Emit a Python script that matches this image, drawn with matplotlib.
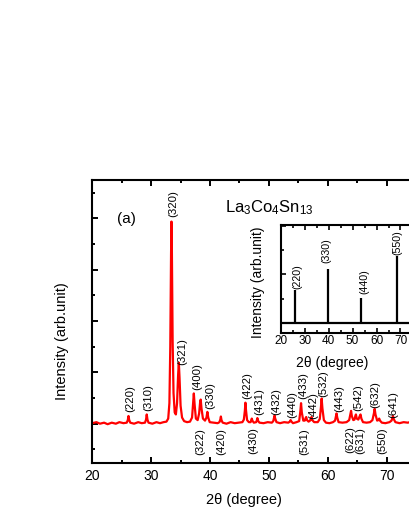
import numpy as np
import matplotlib
matplotlib.use('Agg')
import matplotlib.pyplot as plt
from matplotlib.ticker import MultipleLocator, NullFormatter, FuncFormatter

plt.rcParams['font.family'] = ['Liberation Sans', 'DejaVu Sans']
plt.rcParams['mathtext.fontset'] = 'custom'
plt.rcParams['mathtext.rm'] = 'Liberation Sans'
plt.rcParams['mathtext.it'] = 'Liberation Sans:italic'

# measured XRD pattern (2theta in degree, intensity in arb. units)
two_theta = [20.0, 20.7, 21.3, 22.0, 22.6, 23.3, 24.0, 24.6, 25.3, 25.85,
             26.03, 26.15, 26.27, 26.45,
             27.1, 27.8, 28.4, 28.95,
             29.13, 29.25, 29.37, 29.55,
             30.2, 30.9, 31.5, 32.1, 32.6,
             32.9, 33.1, 33.25, 33.38, 33.45, 33.52, 33.65, 33.8, 34.0,
             34.2, 34.4, 34.58, 34.7, 34.82, 35.0, 35.25, 35.6,
             36.1, 36.6, 36.95, 37.12, 37.25, 37.38, 37.6,
             37.9, 38.15, 38.32, 38.42, 38.55, 38.8,
             39.15, 39.4, 39.55, 39.7, 39.95,
             40.6, 41.3, 41.6, 41.75, 41.85, 41.95, 42.15,
             42.8, 43.5, 44.2, 44.9, 45.5, 45.75,
             45.92, 46.02, 46.12, 46.3, 46.6,
             46.9, 47.02, 47.1, 47.2, 47.45,
             47.85, 47.97, 48.05, 48.15, 48.4,
             49.1, 49.8, 50.5, 50.75, 50.88, 50.97, 51.08, 51.3,
             51.9, 52.6, 53.3, 53.55, 53.7, 53.85, 54.1,
             54.7, 55.15, 55.35, 55.47, 55.6, 55.85,
             56.1, 56.25, 56.35, 56.48, 56.75,
             57.0, 57.17, 57.25, 57.38, 57.7,
             58.3, 58.65, 58.85, 58.97, 59.1, 59.35, 59.7,
             60.3, 60.9, 61.25, 61.4, 61.5, 61.62, 61.85,
             62.5, 63.2, 63.65, 63.85, 63.97, 64.1, 64.35,
             64.55, 64.72, 64.8, 64.93, 65.2, 65.45, 65.58, 65.72, 66.0,
             66.6, 67.2, 67.6, 67.85, 67.98, 68.12, 68.4,
             68.62, 68.75, 68.88, 69.2,
             69.8, 70.5, 70.85, 71.0, 71.1, 71.22, 71.5,
             72.2, 72.9, 73.6, 74.3, 75.0, 75.7, 76.4, 77.1, 77.8, 78.5, 79.2, 80.0]
intensity = [0.01, 0.03, 0.00, 0.02, -0.01, 0.02, 0.00, 0.03, 0.01, 0.02,
             0.07, 0.15, 0.07, 0.02,
             0.00, 0.03, 0.01, 0.02,
             0.08, 0.18, 0.08, 0.02,
             0.00, 0.03, 0.01, 0.03, 0.04,
             0.10, 0.40, 1.50, 3.30, 3.94, 3.40, 1.60, 0.60, 0.22,
             0.18, 0.40, 0.95, 1.19, 0.90, 0.35, 0.12, 0.05,
             0.03, 0.04, 0.12, 0.40, 0.59, 0.38, 0.10,
             0.07, 0.20, 0.42, 0.47, 0.30, 0.10,
             0.06, 0.12, 0.23, 0.12, 0.03,
             0.02, 0.01, 0.03, 0.08, 0.14, 0.07, 0.02,
             0.00, 0.03, 0.01, 0.02, 0.03, 0.08,
             0.25, 0.41, 0.26, 0.07, 0.03,
             0.03, 0.07, 0.10, 0.06, 0.02,
             0.03, 0.07, 0.11, 0.06, 0.02,
             0.01, 0.03, 0.02, 0.05, 0.12, 0.16, 0.10, 0.03,
             0.01, 0.03, 0.02, 0.04, 0.07, 0.04, 0.01,
             0.03, 0.05, 0.24, 0.40, 0.22, 0.06,
             0.06, 0.11, 0.13, 0.07, 0.04,
             0.06, 0.11, 0.13, 0.07, 0.03,
             0.03, 0.09, 0.32, 0.49, 0.30, 0.07, 0.02,
             0.01, 0.03, 0.06, 0.14, 0.20, 0.12, 0.03,
             0.02, 0.03, 0.07, 0.18, 0.25, 0.15, 0.07,
             0.08, 0.16, 0.18, 0.10, 0.08, 0.15, 0.18, 0.10, 0.03,
             0.02, 0.03, 0.07, 0.20, 0.29, 0.18, 0.06,
             0.07, 0.10, 0.06, 0.02,
             0.01, 0.03, 0.06, 0.12, 0.15, 0.09, 0.03,
             0.01, 0.03, 0.02, 0.04, 0.02, 0.03, 0.01, 0.03, 0.02, 0.01, 0.03, 0.02]

# Miller indices labelled above the peaks
above_hkl = ['(220)', '(310)', '(320)', '(321)', '(400)', '(330)', '(422)', '(431)', '(432)',
             '(440)', '(433)', '(442)', '(532)', '(443)', '(542)', '(632)', '(641)']
above_x = [26.45, 29.45, 33.7, 35.3, 37.75, 40.1, 46.4, 48.4, 51.25,
           54.0, 55.85, 57.6, 59.3, 62.0, 65.25, 68.1, 71.2]
above_y = [0.23, 0.24, 4.03, 1.14, 0.66, 0.28, 0.49, 0.17, 0.17,
           0.12, 0.49, 0.10, 0.53, 0.23, 0.24, 0.30, 0.12]
# Miller indices labelled below the baseline
below_hkl = ['(322)', '(420)', '(430)', '(531)', '(622)', '(631)', '(550)']
below_x = [38.4, 41.95, 47.35, 55.95, 63.8, 65.5, 69.2]
below_y = [-0.09, -0.09, -0.07, -0.09, -0.05, -0.06, -0.07]

# inset: reflections (hh0) of the oriented sample
inset_x = [26.1, 39.6, 53.6, 68.6]
inset_h = [0.68, 1.11, 0.51, 1.38]
inset_hkl = ['(220)', '(330)', '(440)', '(550)']
inset_lx = [26.9, 38.9, 54.8, 68.5]
inset_ly = [0.70, 1.23, 0.61, 1.40]

# the right end of the axes (80) runs past the picture edge, so no label there
def tick_fmt(v, pos):
    return '' if v > 75 else '%d' % v

fig = plt.figure(figsize=(4.09, 5.29), dpi=100)

ax = fig.add_axes([0.2257, 0.1242, 0.8633, 0.5355])
ax.plot(two_theta, intensity, color='#ff0000', lw=1.6)
ax.set_xlim(20, 80)
ax.set_ylim(-0.772, 4.75)
ax.xaxis.set_major_locator(MultipleLocator(10))
ax.xaxis.set_minor_locator(MultipleLocator(5))
ax.xaxis.set_major_formatter(FuncFormatter(tick_fmt))
ax.yaxis.set_major_locator(MultipleLocator(1))
ax.yaxis.set_minor_locator(MultipleLocator(0.5))
ax.yaxis.set_major_formatter(NullFormatter())
ax.tick_params(which='both', direction='in', top=True, right=True, width=1.4)
ax.tick_params(which='major', length=4.3, labelsize=10, pad=4)
ax.tick_params(which='minor', length=2.2)
for s in ax.spines.values():
    s.set_linewidth(1.5)

ax.set_xlabel('2θ (degree)', fontsize=10.5)
ax.xaxis.set_label_coords(0.43, -0.105)
ax.set_ylabel('Intensity (arb.unit)', fontsize=10.5)
ax.yaxis.set_label_coords(-0.065, 0.43)

for t, x, y in zip(above_hkl, above_x, above_y):
    ax.text(x, y, t, rotation=90, ha='center', va='bottom', fontsize=8.2)
for t, x, y in zip(below_hkl, below_x, below_y):
    ax.text(x, y, t, rotation=90, ha='center', va='top', fontsize=8.2)

ax.text(25.8, 3.99, '(a)', ha='center', va='center', fontsize=11)
ax.text(42.55, 4.13, r'La$_3$Co$_4$Sn$_{13}$', ha='left', va='baseline', fontsize=12)

# inset
axi = fig.add_axes([0.6863, 0.3711, 0.3515, 0.2036])
axi.set_facecolor('white')
axi.axhline(0, color='black', lw=1.6)
axi.vlines(inset_x, 0, inset_h, color='black', lw=1.6)
axi.set_xlim(20, 80)
axi.set_ylim(-0.193, 2.014)
axi.xaxis.set_major_locator(MultipleLocator(10))
axi.xaxis.set_minor_locator(MultipleLocator(5))
axi.xaxis.set_major_formatter(FuncFormatter(tick_fmt))
axi.yaxis.set_major_locator(MultipleLocator(1))
axi.yaxis.set_minor_locator(MultipleLocator(0.5))
axi.yaxis.set_major_formatter(NullFormatter())
axi.tick_params(which='both', direction='in', top=True, right=True, width=1.2)
axi.tick_params(which='major', length=3.5, labelsize=8.5, pad=2)
axi.tick_params(which='minor', length=2)
for s in axi.spines.values():
    s.set_linewidth(1.5)
axi.set_xlabel('2θ (degree)', fontsize=10, labelpad=1)
axi.xaxis.set_label_coords(0.36, -0.22)
axi.set_ylabel('Intensity (arb.unit)', fontsize=10)
axi.yaxis.set_label_coords(-0.11, 0.47)
for t, x, y in zip(inset_hkl, inset_lx, inset_ly):
    axi.text(x, y, t, rotation=90, ha='center', va='bottom', fontsize=7.7)

plt.savefig('out.png', dpi=100)
